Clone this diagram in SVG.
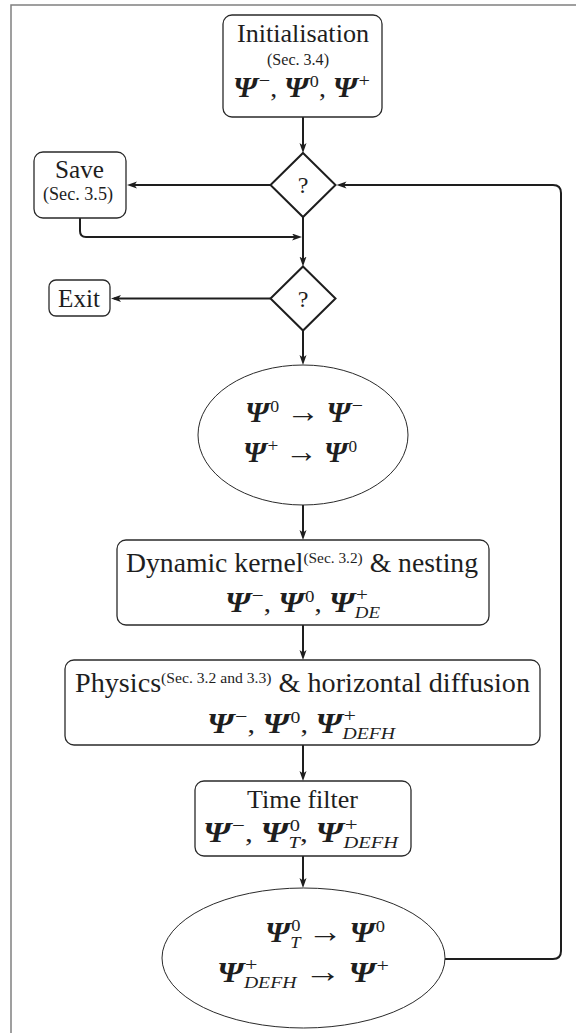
<svg xmlns="http://www.w3.org/2000/svg" width="576" height="1033" viewBox="0 0 576 1033">
<style>
.t{font-family:"Liberation Serif","Times New Roman",serif;fill:#1e1e1e;font-size:26px}
.P{font-weight:bold;font-style:italic;font-size:29px}
.s{font-size:17px}
.g{font-size:19px}
.a{font-size:32px}
.i{font-style:italic}
.box{fill:#fff;stroke:#2a2a2a;stroke-width:1.3}
.dia{fill:#fff;stroke:#1e1e1e;stroke-width:2}
.ell{fill:#fff;stroke:#2a2a2a;stroke-width:1}
.c{fill:none;stroke:#1e1e1e;stroke-width:2}
</style>
<defs>
<marker id="ah" markerUnits="userSpaceOnUse" markerWidth="12" markerHeight="10" refX="7" refY="3.5" orient="auto">
<path d="M0,0 L10,3.5 L0,7 L2.5,3.5 z" fill="#1e1e1e"/>
</marker>
</defs>
<rect width="576" height="1033" fill="#fff"/>
<path d="M11,1033 V5 H576" fill="none" stroke="#808080" stroke-width="1.5"/>

<g id="connectors">
<path class="c" d="M303,117 V150" marker-end="url(#ah)"/>
<path class="c" d="M270.5,185 H130" marker-end="url(#ah)"/>
<path class="c" d="M80,218 V231 Q80,237 86,237 H299" marker-end="url(#ah)"/>
<path class="c" d="M303,217 V263.5" marker-end="url(#ah)"/>
<path class="c" d="M270.5,298.5 H114" marker-end="url(#ah)"/>
<path class="c" d="M303,330.5 V362" marker-end="url(#ah)"/>
<path class="c" d="M303,505 V537" marker-end="url(#ah)"/>
<path class="c" d="M303,625 V657" marker-end="url(#ah)"/>
<path class="c" d="M303,745 V778" marker-end="url(#ah)"/>
<path class="c" d="M303,856 V885" marker-end="url(#ah)"/>
<path class="c" d="M445,959 H553 Q561,959 561,951 V193 Q561,185 553,185 H339.5" marker-end="url(#ah)"/>
</g>

<g id="init">
<rect class="box" x="223" y="15" width="159" height="102" rx="9"/>
<text class="t" x="237" y="42" textLength="132" lengthAdjust="spacingAndGlyphs">Initialisation</text>
<text class="t" x="267" y="65" style="font-size:16px" textLength="62" lengthAdjust="spacingAndGlyphs">(Sec. 3.4)</text>
<text class="t" x="233" y="97" textLength="137" lengthAdjust="spacingAndGlyphs"><tspan class="P">Ψ</tspan><tspan class="g" dx="1" dy="-10">−</tspan><tspan dy="10">, </tspan><tspan class="P">Ψ</tspan><tspan class="s" dx="1" dy="-10">0</tspan><tspan dy="10">, </tspan><tspan class="P">Ψ</tspan><tspan class="g" dx="1" dy="-10">+</tspan></text>
</g>

<g id="decision1">
<polygon class="dia" points="303,153 335.5,185 303,217 270.5,185"/>
<text class="t" x="303" y="193" text-anchor="middle" style="font-size:24px">?</text>
</g>

<g id="save">
<rect class="box" x="34" y="152" width="92" height="66" rx="9"/>
<text class="t" x="55" y="178" textLength="49" lengthAdjust="spacingAndGlyphs">Save</text>
<text class="t" x="43" y="200" style="font-size:18px" textLength="70" lengthAdjust="spacingAndGlyphs">(Sec. 3.5)</text>
</g>

<g id="decision2">
<polygon class="dia" points="303,266.5 335.5,298.5 303,330.5 270.5,298.5"/>
<text class="t" x="303" y="307" text-anchor="middle" style="font-size:24px">?</text>
</g>

<g id="exit">
<rect class="box" x="49" y="280" width="61" height="36" rx="7"/>
<text class="t" x="58" y="307" textLength="42" lengthAdjust="spacingAndGlyphs">Exit</text>
</g>

<g id="shift1">
<ellipse class="ell" cx="303" cy="435" rx="105" ry="70"/>
<text class="t" x="245" y="422" textLength="118" lengthAdjust="spacingAndGlyphs"><tspan class="P">Ψ</tspan><tspan class="s" dx="1" dy="-10">0</tspan><tspan dy="10"> </tspan><tspan class="a">→</tspan><tspan> </tspan><tspan class="P">Ψ</tspan><tspan class="g" dx="1" dy="-10">−</tspan></text>
<text class="t" x="243" y="462" textLength="114" lengthAdjust="spacingAndGlyphs"><tspan class="P">Ψ</tspan><tspan class="g" dx="1" dy="-10">+</tspan><tspan dy="10"> </tspan><tspan class="a">→</tspan><tspan> </tspan><tspan class="P">Ψ</tspan><tspan class="s" dx="1" dy="-10">0</tspan></text>
</g>

<g id="dynamic">
<rect class="box" x="117" y="540" width="372" height="85" rx="9"/>
<text class="t" x="126" y="572" style="font-size:27px" textLength="352" lengthAdjust="spacingAndGlyphs">Dynamic kernel<tspan style="font-size:15px" dy="-9">(Sec. 3.2)</tspan><tspan dy="9"> &amp; nesting</tspan></text>
<text class="t" x="225" y="612" textLength="155" lengthAdjust="spacingAndGlyphs"><tspan class="P">Ψ</tspan><tspan class="g" dx="1" dy="-10">−</tspan><tspan dy="10">, </tspan><tspan class="P">Ψ</tspan><tspan class="s" dx="1" dy="-10">0</tspan><tspan dy="10">, </tspan><tspan class="P">Ψ</tspan><tspan class="g" dx="1" dy="-11">+</tspan><tspan class="s i" dx="-11.7" dy="17">DE</tspan></text>
</g>

<g id="physics">
<rect class="box" x="65" y="660" width="475" height="85" rx="9"/>
<text class="t" x="75" y="692" style="font-size:27px" textLength="455" lengthAdjust="spacingAndGlyphs">Physics<tspan style="font-size:15px" dy="-9">(Sec. 3.2 and 3.3)</tspan><tspan dy="9"> &amp; horizontal diffusion</tspan></text>
<text class="t" x="207" y="733" textLength="188" lengthAdjust="spacingAndGlyphs"><tspan class="P">Ψ</tspan><tspan class="g" dx="1" dy="-10">−</tspan><tspan dy="10">, </tspan><tspan class="P">Ψ</tspan><tspan class="s" dx="1" dy="-10">0</tspan><tspan dy="10">, </tspan><tspan class="P">Ψ</tspan><tspan class="g" dx="1" dy="-11">+</tspan><tspan class="s i" dx="-11.7" dy="17">DEFH</tspan></text>
</g>

<g id="timefilter">
<rect class="box" x="195" y="781" width="216" height="75" rx="9"/>
<text class="t" x="247" y="808" textLength="111" lengthAdjust="spacingAndGlyphs">Time filter</text>
<text class="t" x="203" y="842" textLength="195" lengthAdjust="spacingAndGlyphs"><tspan class="P">Ψ</tspan><tspan class="g" dx="1" dy="-10">−</tspan><tspan dy="10">, </tspan><tspan class="P">Ψ</tspan><tspan class="s" dx="1" dy="-11">0</tspan><tspan class="s i" dx="-9.5" dy="17">T</tspan><tspan dy="-6">, </tspan><tspan class="P">Ψ</tspan><tspan class="g" dx="1" dy="-11">+</tspan><tspan class="s i" dx="-11.7" dy="17">DEFH</tspan></text>
</g>

<g id="shift2">
<ellipse class="ell" cx="303.5" cy="958" rx="141.5" ry="70"/>
<text class="t" x="265" y="942" textLength="120" lengthAdjust="spacingAndGlyphs"><tspan class="P">Ψ</tspan><tspan class="s" dx="1" dy="-11">0</tspan><tspan class="s i" dx="-9.5" dy="17">T</tspan><tspan dy="-6"> </tspan><tspan class="a">→</tspan><tspan> </tspan><tspan class="P">Ψ</tspan><tspan class="s" dx="1" dy="-10">0</tspan></text>
<text class="t" x="217" y="982" textLength="172" lengthAdjust="spacingAndGlyphs"><tspan class="P">Ψ</tspan><tspan class="g" dx="1" dy="-11">+</tspan><tspan class="s i" dx="-11.7" dy="17">DEFH</tspan><tspan dy="-6"> </tspan><tspan class="a">→</tspan><tspan> </tspan><tspan class="P">Ψ</tspan><tspan class="g" dx="1" dy="-10">+</tspan></text>
</g>
</svg>
